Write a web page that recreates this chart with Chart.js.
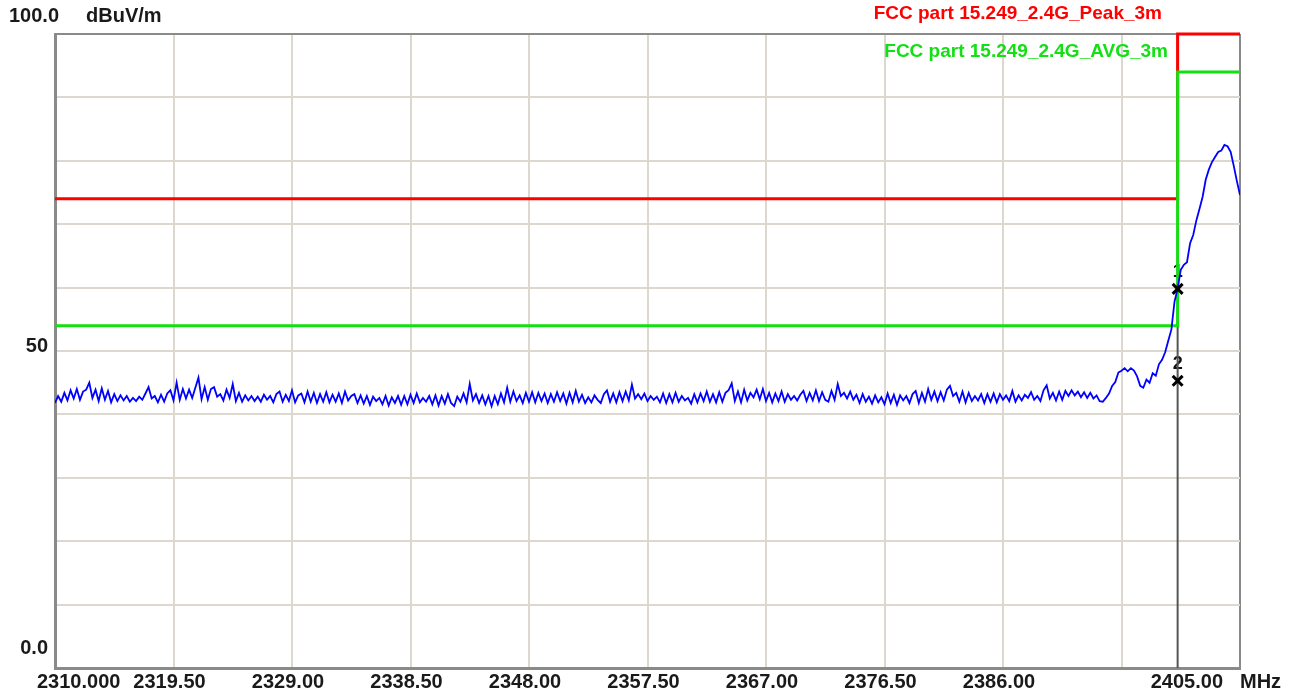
<!DOCTYPE html>
<html>
<head>
<meta charset="utf-8">
<script src="https://cdn.jsdelivr.net/npm/chart.js@4.4.1/dist/chart.umd.min.js"></script>
<style>
  html, body { margin: 0; padding: 0; background: #fff; }
  #wrap { width: 1291px; height: 696px; position: relative; }
</style>
</head>
<body>
<div id="wrap"><canvas id="chart"></canvas></div>
<script>
// sweep settings (MHz)
const sweepStart = 2310
const sweepStep = 0.25

// measured level, dBuV/m, one value per sweep point
const sweepLevels = [
  41.8, 42.9, 42.0, 43.4, 42.2, 43.8, 42.5, 44.0, 42.3, 43.6, 43.9, 45.0, 42.6, 43.9, 42.1, 44.1, 42.3, 43.7, 41.9, 43.2,
  42.1, 43.0, 42.2, 42.9, 42.0, 42.6, 42.1, 42.8, 42.3, 43.3, 44.3, 42.5, 42.9, 41.9, 43.1, 42.0, 43.3, 43.8, 42.2, 45.0,
  42.3, 44.0, 42.5, 43.9, 42.6, 44.2, 45.8, 42.4, 44.3, 42.3, 44.0, 44.3, 42.8, 43.2, 42.2, 43.9, 42.6, 44.8, 42.1, 43.4,
  42.0, 43.0, 42.2, 42.9, 42.1, 42.8, 42.0, 43.1, 42.3, 42.9, 41.9, 43.2, 43.6, 42.0, 43.1, 42.1, 43.8, 41.9, 43.0, 43.3,
  41.9, 43.6, 42.0, 43.4, 41.8, 43.2, 42.0, 43.5, 41.9, 43.1, 42.0, 43.3, 41.8, 43.6, 42.2, 42.9, 43.2, 41.8, 43.0, 41.7,
  42.9, 41.5, 42.8, 42.1, 42.6, 41.6, 42.9, 41.4, 42.7, 41.8, 42.9, 41.5, 42.9, 41.6, 43.1, 41.8, 43.3, 41.9, 42.6, 42.0,
  42.9, 41.6, 43.0, 41.4, 42.9, 41.7, 43.2, 41.8, 41.3, 42.8, 42.0, 43.3, 41.9, 44.8, 42.2, 43.2, 41.8, 43.0, 41.6, 42.9,
  41.3, 42.9, 41.6, 43.3, 41.9, 44.2, 42.0, 43.6, 42.1, 43.0, 41.8, 43.4, 42.0, 43.5, 41.9, 43.4, 42.1, 43.3, 41.8, 43.2,
  42.0, 43.5, 42.1, 43.3, 41.7, 43.4, 41.9, 43.7, 42.0, 43.1, 41.8, 42.7, 41.9, 43.0, 42.3, 41.8, 43.2, 43.8, 42.0, 43.3,
  41.9, 43.5, 42.1, 43.6, 42.2, 44.7, 42.5, 43.2, 42.4, 43.3, 42.1, 42.9, 42.3, 42.8, 41.9, 43.3, 41.8, 43.2, 41.9, 43.4,
  42.0, 42.9, 42.2, 42.6, 41.7, 43.2, 41.9, 43.3, 42.1, 43.6, 42.0, 43.2, 41.9, 43.5, 42.0, 43.4, 43.8, 44.9, 42.1, 43.6,
  41.9, 43.9, 42.2, 43.4, 42.7, 43.9, 42.4, 44.0, 42.1, 43.4, 41.9, 43.3, 42.1, 43.6, 42.0, 43.2, 42.3, 42.9, 42.2, 43.1,
  43.7, 42.1, 43.4, 42.2, 43.8, 42.1, 43.5, 42.3, 42.0, 43.7, 42.3, 44.8, 42.9, 43.4, 42.5, 43.6, 42.3, 43.1, 41.8, 43.2,
  42.0, 42.8, 41.7, 43.0, 41.9, 42.7, 41.6, 43.3, 41.8, 43.1, 41.5, 43.0, 42.2, 42.9, 41.8, 43.2, 43.7, 41.8, 43.4, 42.0,
  44.0, 42.3, 43.6, 42.1, 43.5, 42.2, 43.9, 44.5, 42.9, 43.4, 42.0, 43.6, 41.9, 43.4, 42.1, 42.9, 42.2, 43.2, 41.8, 43.2,
  42.0, 43.3, 41.9, 43.2, 42.3, 43.0, 42.1, 43.7, 42.0, 43.0, 42.2, 43.1, 42.6, 43.5, 42.3, 42.9, 42.1, 43.8, 44.6, 42.5,
  43.4, 42.2, 43.6, 42.3, 43.7, 42.9, 43.8, 43.0, 43.6, 42.7, 43.5, 42.6, 43.4, 42.5, 43.0, 42.1, 42.0,
  // 2394.25 .. 2405.00
  42.6, 43.3, 44.5, 45.1, 46.6, 46.9, 47.3, 46.8, 47.3, 46.9, 46.0, 44.5, 44.2, 45.5, 45.0, 46.5,
  46.1, 47.9, 48.6, 49.8, 51.6, 53.4, 57.8, 59.8, 62.8, 63.6, 64.0, 67.0, 68.3, 70.6, 72.4, 74.3,
  77.0, 78.6, 79.8, 80.6, 81.4, 81.6, 82.5, 82.3, 81.4, 79.2, 76.8, 74.6
]

// limit lines (step at band edge)
const limitFreqs = [2310, 2400, 2400, 2405]
const peakLimit = [74, 74, 100, 100]
const avgLimit = [54, 54, 94, 94]

// markers
const markerFreqs = [2400, 2400]
const markerLevels = [59.8, 45.3]
const markerNames = ['1', '2']

// axis labels
const xTickValues = [2310, 2319.5, 2329, 2338.5, 2348, 2357.5, 2367, 2376.5, 2386, 2405]
const xTickLabels = ['2310.000', '2319.50', '2329.00', '2338.50', '2348.00', '2357.50', '2367.00', '2376.50', '2386.00', '2405.00']
const yTickValues = [50, 0]
const yTickLabels = ['50', '0.0']

const FONT = '"Liberation Sans", Arial, sans-serif'

const tracePoints = sweepLevels.map((v, i) => ({ x: sweepStart + i * sweepStep, y: v }))
const toPts = (xs, ys) => xs.map((x, i) => ({ x: x, y: ys[i] }))

// texts around the frame
const textPlugin = {
  id: 'texts',
  beforeDatasetsDraw(chart) {
    const { ctx, scales: { x, y } } = chart
    ctx.save()
    ctx.fillStyle = '#111'
    ctx.font = 'bold 18px ' + FONT
    ctx.textAlign = 'center'
    ctx.textBaseline = 'middle'
    markerNames.forEach((n, i) => {
      ctx.fillText(n, x.getPixelForValue(markerFreqs[i]), y.getPixelForValue(markerLevels[i]) - 17)
    })
    ctx.restore()
  },
  afterDraw(chart) {
    const { ctx, scales: { x, y } } = chart
    ctx.save()
    ctx.fillStyle = '#1a1a1a'
    ctx.textBaseline = 'middle'
    ctx.font = 'bold 20px ' + FONT

    xTickValues.forEach((v, i) => {
      let px = x.getPixelForValue(v) - 4
      ctx.textAlign = 'center'
      if (i === 0) { ctx.textAlign = 'left'; px = x.left - 18 }
      if (i === xTickValues.length - 1) { ctx.textAlign = 'right'; px = x.right - 17 }
      ctx.fillText(xTickLabels[i], px, 682)
    })
    ctx.textAlign = 'left'
    ctx.fillText('MHz', x.right, 682)

    ctx.textAlign = 'right'
    yTickValues.forEach((v, i) => {
      const py = v === 0 ? y.getPixelForValue(v) - 20 : y.getPixelForValue(v) - 5
      ctx.fillText(yTickLabels[i], 48, py)
    })
    ctx.textAlign = 'left'
    ctx.fillText('100.0', 9, 16)
    ctx.fillText('dBuV/m', 86, 16)

    ctx.font = 'bold 19px ' + FONT
    ctx.textAlign = 'right'
    ctx.fillStyle = '#ff0000'
    ctx.fillText('FCC part 15.249_2.4G_Peak_3m', 1162, 14)
    ctx.fillStyle = '#12e012'
    ctx.fillText('FCC part 15.249_2.4G_AVG_3m', 1168, 52)
    ctx.restore()
  }
}

new Chart(document.getElementById('chart'), {
  type: 'line',
  data: {
    datasets: [
      {
        type: 'scatter',
        data: toPts(markerFreqs, markerLevels),
        pointStyle: 'crossRot',
        pointRadius: 7,
        borderColor: '#000',
        borderWidth: 3,
        order: 0
      },
      {
        data: tracePoints,
        borderColor: '#0000ff',
        borderWidth: 1.8,
        pointRadius: 0,
        order: 1
      },
      {
        data: toPts(limitFreqs, avgLimit),
        borderColor: '#12e012',
        borderWidth: 3,
        pointRadius: 0,
        order: 2
      },
      {
        data: toPts(limitFreqs, peakLimit),
        borderColor: '#ff0000',
        borderWidth: 3,
        pointRadius: 0,
        clip: 4,
        order: 3
      },
      {
        data: toPts([2400, 2400], [0, 100]),
        borderColor: '#555',
        borderWidth: 2,
        pointRadius: 0,
        order: 4
      }
    ]
  },
  options: {
    responsive: true,
    maintainAspectRatio: false,
    animation: false,
    layout: { padding: { left: 55, right: 51, top: 34, bottom: 28 } },
    plugins: {
      legend: { display: false },
      tooltip: { enabled: false }
    },
    scales: {
      x: {
        type: 'linear',
        min: 2310,
        max: 2405,
        ticks: { display: false, stepSize: 9.5 },
        grid: {
          drawTicks: false,
          lineWidth: 2,
          color: (c) => (c.tick && c.tick.value >= 2404.9 ? '#8a8a8a' : '#dcd8d0')
        },
        border: { color: '#8a8a8a', width: 3 }
      },
      y: {
        min: 0,
        max: 100,
        ticks: { display: false, stepSize: 10 },
        grid: {
          drawTicks: false,
          lineWidth: 2,
          color: (c) => (c.tick && c.tick.value === 100 ? '#8a8a8a' : '#dcd8d0')
        },
        border: { color: '#8a8a8a', width: 3 }
      }
    }
  },
  plugins: [textPlugin]
})
</script>
</body>
</html>
